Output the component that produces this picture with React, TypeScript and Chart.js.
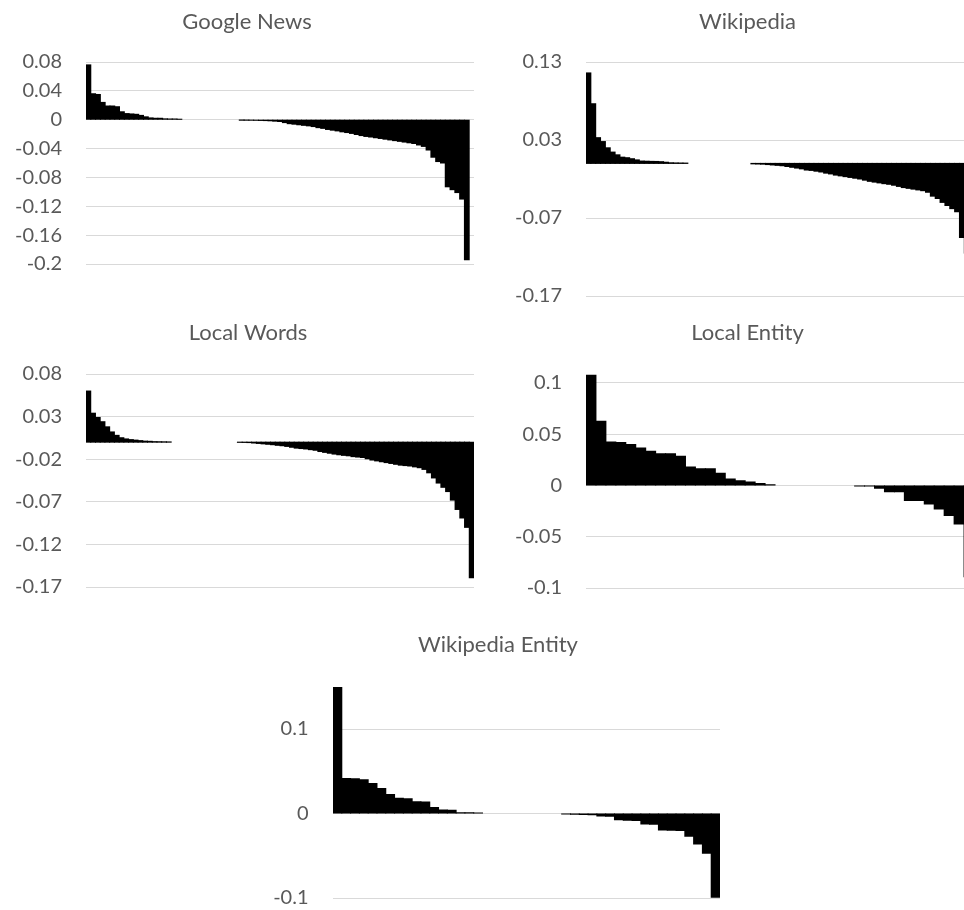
import { useEffect, useRef } from "react";
import { Chart, registerables } from "chart.js";

Chart.register(...registerables);

// Per-item scores, sorted from largest to smallest, one array per source.
const googleNewsValues = [
  0.076, 0.036, 0.035, 0.024, 0.019, 0.019, 0.018, 0.011, 0.0085, 0.008,
  0.0075, 0.006, 0.004, 0.0025, 0.002, 0.002, 0.0012, 0.001, 0.001, 0.0006,
  0, 0, 0, 0, 0, 0, 0, 0, 0, 0, 0, 0,
  -0.0004, -0.0005, -0.0006, -0.0008, -0.001, -0.0012, -0.0015, -0.002, -0.0025,
  -0.004, -0.0055, -0.0062, -0.007, -0.0078, -0.0085, -0.0095, -0.011, -0.012,
  -0.0135, -0.0145, -0.0155, -0.0168, -0.0178, -0.019, -0.0205, -0.022, -0.0232, -0.024,
  -0.025, -0.026, -0.027, -0.028, -0.029, -0.03, -0.031, -0.032, -0.033, -0.035,
  -0.037, -0.042, -0.052, -0.058, -0.06, -0.093, -0.097, -0.101, -0.11, -0.194,
  0,
];

const wikipediaValues = [
  0.116, 0.0765, 0.033, 0.028, 0.02, 0.0145, 0.011, 0.008, 0.0073, 0.006, 0.0045,
  0.003, 0.0028, 0.0026, 0.0025, 0.0022, 0.0015, 0.0008, 0.0006, 0.0005, 0.0004,
  0, 0, 0, 0, 0, 0, 0, 0, 0, 0, 0, 0, 0,
  -0.0006, -0.0008, -0.001, -0.0015, -0.002, -0.0025, -0.003, -0.004, -0.005, -0.006,
  -0.007, -0.0085, -0.009, -0.01, -0.011, -0.0125, -0.0135, -0.015, -0.016, -0.017,
  -0.018, -0.019, -0.02, -0.0215, -0.023, -0.024, -0.025, -0.026, -0.0268, -0.028,
  -0.0295, -0.031, -0.032, -0.033, -0.034, -0.035, -0.037, -0.042, -0.045, -0.05,
  -0.054, -0.058, -0.062, -0.095, -0.115, -0.14,
];

const localWordsValues = [
  0.06, 0.034, 0.029, 0.024, 0.018, 0.012, 0.008, 0.0052, 0.0038, 0.003,
  0.0024, 0.0018, 0.0012, 0.001, 0.0006, 0.0005, 0.0004, 0.0003,
  0, 0, 0, 0, 0, 0, 0, 0, 0, 0, 0, 0, 0, 0,
  -0.0002, -0.0003, -0.0005, -0.001, -0.0015, -0.002, -0.0025, -0.003, -0.0037, -0.0042,
  -0.005, -0.006, -0.007, -0.0075, -0.008, -0.0088, -0.0095, -0.011, -0.012, -0.013,
  -0.014, -0.0148, -0.0155, -0.016, -0.017, -0.0175, -0.018, -0.0195, -0.021, -0.022,
  -0.023, -0.024, -0.025, -0.026, -0.027, -0.0275, -0.028, -0.029, -0.03, -0.032,
  -0.036, -0.042, -0.048, -0.053, -0.058, -0.068, -0.079, -0.089, -0.1, -0.159,
];

const localEntityValues = [
  0.1075, 0.0627, 0.0425, 0.042, 0.04, 0.0366, 0.0333, 0.031, 0.031, 0.0284,
  0.018, 0.0163, 0.0163, 0.012, 0.0062, 0.0046, 0.0033, 0.002, 0.0007,
  0, 0, 0, 0, 0, 0, 0, 0,
  -0.0004, -0.0006,
  -0.0026, -0.006, -0.006, -0.0147, -0.0147, -0.018, -0.0229, -0.0294, -0.0376, -0.089,
];

const wikipediaEntityValues = [
  0.149, 0.0415, 0.041, 0.04, 0.0356, 0.0296, 0.0225, 0.018, 0.0176, 0.014,
  0.0136, 0.0071, 0.0042, 0.0038, 0.001, 0.0008, 0.0006,
  0, 0, 0, 0, 0, 0, 0, 0, 0,
  -0.0006, -0.0008, -0.0012, -0.0015, -0.003, -0.0032, -0.0075, -0.008, -0.0082,
  -0.0124, -0.0128, -0.0195, -0.0198, -0.02, -0.027, -0.036, -0.047, -0.099,
];

// Tick labels shown on each value axis
const googleNewsTicks = [0.08, 0.04, 0, -0.04, -0.08, -0.12, -0.16, -0.2];
const wikipediaTicks = [0.13, 0.03, -0.07, -0.17];
const localWordsTicks = [0.08, 0.03, -0.02, -0.07, -0.12, -0.17];
const localEntityTicks = [0.1, 0.05, 0, -0.05, -0.1];
const wikipediaEntityTicks = [0.1, 0, -0.1];

const FONT = "Lato, 'Open Sans', sans-serif";
const TEXT_COLOR = "#595959";
const GRID_COLOR = "#d9d9d9";
const TITLE_SIZE = 22;
const TICK_SIZE = 20;
const LINE_HEIGHT = 1.2;
// Room under each plot; must exceed the axis' own label padding (half a label + tick padding)
const BOTTOM_ROOM = 44;

type Frame = {
  left: number;
  top: number;
  plotLeft: number;
  plotRight: number;
  plotTop: number;
  plotBottom: number;
  titleX: number;
  titleY: number;
  padRight: number;
  labelGap: number;
};

type PanelDef = {
  title: string;
  values: number[];
  ticks: number[];
  min: number;
  max: number;
  frame: Frame;
};

const panels: PanelDef[] = [
  {
    title: "Google News",
    values: googleNewsValues,
    ticks: googleNewsTicks,
    min: -0.2,
    max: 0.08,
    frame: { left: 0, top: 0, plotLeft: 86, plotRight: 474, plotTop: 62, plotBottom: 264, titleX: 247, titleY: 22, padRight: 20, labelGap: 24 },
  },
  {
    title: "Wikipedia",
    values: wikipediaValues,
    ticks: wikipediaTicks,
    min: -0.17,
    max: 0.13,
    frame: { left: 496, top: 0, plotLeft: 586, plotRight: 974, plotTop: 62, plotBottom: 296, titleX: 747.5, titleY: 22, padRight: 21, labelGap: 24 },
  },
  {
    title: "Local Words",
    values: localWordsValues,
    ticks: localWordsTicks,
    min: -0.17,
    max: 0.08,
    frame: { left: 0, top: 300, plotLeft: 86, plotRight: 474, plotTop: 374, plotBottom: 587, titleX: 248, titleY: 333, padRight: 20, labelGap: 24 },
  },
  {
    title: "Local Entity",
    values: localEntityValues,
    ticks: localEntityTicks,
    min: -0.1,
    max: 0.11,
    frame: { left: 496, top: 312, plotLeft: 586, plotRight: 974, plotTop: 372.7, plotBottom: 588, titleX: 747.5, titleY: 333, padRight: 21, labelGap: 24 },
  },
  {
    title: "Wikipedia Entity",
    values: wikipediaEntityValues,
    ticks: wikipediaEntityTicks,
    min: -0.1,
    max: 0.15,
    frame: { left: 247, top: 610, plotLeft: 333, plotRight: 720, plotTop: 686.75, plotBottom: 898, titleX: 498, titleY: 645, padRight: 29, labelGap: 24.5 },
  },
];

function formatTick(v: number): string {
  const r = Math.round(v * 1000) / 1000;
  return r === 0 ? "0" : String(r);
}

// Draws a panel heading centred on a given point of the canvas.
const panelTitlePlugin = {
  id: "panelTitle",
  afterDraw(chart: any, _args: any, opts: any) {
    if (!opts || !opts.text) return;
    const ctx = chart.ctx;
    ctx.save();
    ctx.font = `normal ${opts.size}px ${opts.family}`;
    ctx.fillStyle = opts.color;
    ctx.textAlign = "center";
    ctx.textBaseline = "middle";
    ctx.fillText(opts.text, opts.x, opts.y);
    ctx.restore();
  },
};

function Panel({ panel }: { panel: PanelDef }) {
  const ref = useRef<HTMLCanvasElement>(null);
  const f = panel.frame;
  const width = f.plotRight + f.padRight - f.left;
  const height = f.plotBottom + BOTTOM_ROOM - f.top;

  useEffect(() => {
    if (!ref.current) return;
    const axisWidth = f.plotLeft - f.left;

    const chart = new Chart(ref.current, {
      type: "bar",
      data: {
        labels: panel.values.map((_, i) => String(i + 1)),
        datasets: [
          {
            data: panel.values,
            backgroundColor: "#000000",
            borderWidth: 0,
            barPercentage: 1,
            categoryPercentage: 1,
            inflateAmount: (c: any) => (c.raw === 0 ? 0 : 0.5),
          } as any,
        ],
      },
      plugins: [panelTitlePlugin],
      options: {
        responsive: false,
        animation: false,
        devicePixelRatio: 1,
        events: [],
        layout: {
          padding: {
            left: 0,
            right: f.padRight,
            top: f.plotTop - f.top,
            bottom: BOTTOM_ROOM,
          },
        },
        plugins: {
          legend: { display: false },
          tooltip: { enabled: false },
          title: { display: false },
          panelTitle: {
            text: panel.title,
            x: f.titleX - f.left,
            y: f.titleY - f.top,
            size: TITLE_SIZE,
            family: FONT,
            color: TEXT_COLOR,
          },
        } as any,
        scales: {
          x: { display: false, offset: true },
          y: {
            min: panel.min,
            max: panel.max,
            afterBuildTicks: (s: any) => {
              s.ticks = panel.ticks.map((v) => ({ value: v }));
            },
            afterFit: (s: any) => {
              s.width = axisWidth;
            },
            border: { display: false },
            grid: { color: GRID_COLOR, lineWidth: 1, drawTicks: false },
            ticks: {
              autoSkip: false,
              padding: f.labelGap,
              color: TEXT_COLOR,
              font: { family: FONT, size: TICK_SIZE, lineHeight: LINE_HEIGHT },
              callback: (v: any) => formatTick(Number(v)),
            },
          },
        },
      },
    });
    return () => chart.destroy();
  }, [panel]);

  return (
    <canvas
      ref={ref}
      width={width}
      height={height}
      style={{ position: "absolute", left: f.left, top: f.top, display: "block" }}
    />
  );
}

export default function App() {
  return (
    <div
      style={{
        position: "absolute",
        left: 0,
        top: 0,
        width: 964,
        height: 910,
        overflow: "hidden",
        background: "#ffffff",
      }}
    >
      {panels.map((p) => (
        <Panel key={p.title} panel={p} />
      ))}
    </div>
  );
}
